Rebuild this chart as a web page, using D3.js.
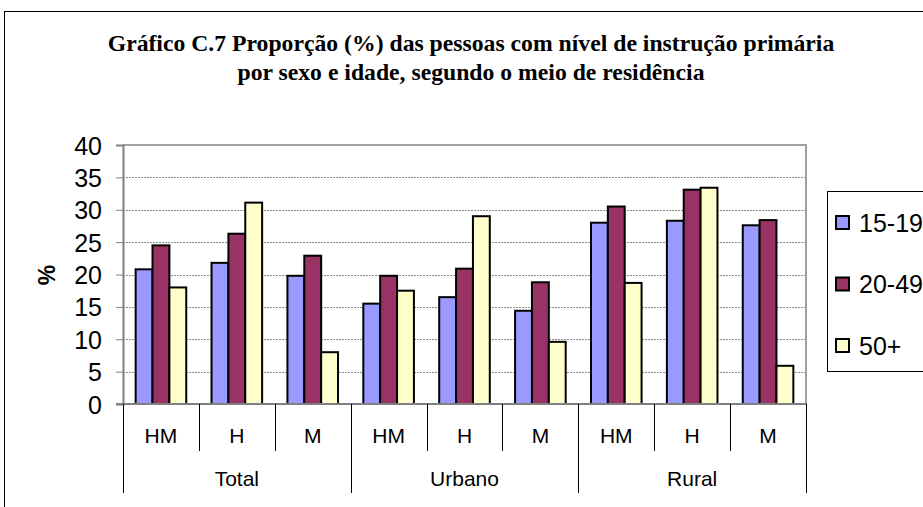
<!DOCTYPE html>
<html>
<head>
<meta charset="utf-8">
<script src="https://cdn.jsdelivr.net/npm/d3@7"></script>
<style>
  body { margin: 0; background: #fff; }
  svg { display: block; }
</style>
</head>
<body>
<svg width="923" height="507"></svg>
<script>
// data
var groups = ["Total", "Urbano", "Rural"];
var sexes = ["HM", "H", "M"];
var series = ["15-19", "20-49", "50+"];
var v1519 = [20.8, 21.8, 19.8, 15.5, 16.5, 14.4, 28.0, 28.3, 27.6];
var v2049 = [24.5, 26.3, 22.9, 19.8, 20.9, 18.8, 30.5, 33.1, 28.4];
var v50 = [18.0, 31.1, 8.0, 17.5, 29.0, 9.6, 18.7, 33.4, 5.9];
var yTicks = [0, 5, 10, 15, 20, 25, 30, 35, 40];
var colors = ["#9999ff", "#993366", "#ffffcc"];

var svg = d3.select("svg");
var sans = "'Liberation Sans', Arial, sans-serif";

var cats = [];
groups.forEach(function(g) {
  sexes.forEach(function(s) { cats.push(g + "|" + s); });
});
var values = [v1519, v2049, v50];

var pLeft = 123, pRight = 806, pTop = 145, pBottom = 404;

var x0 = d3.scaleBand().domain(cats).range([pLeft, pRight]);
var bw = x0.bandwidth();
var x1 = d3.scaleBand().domain(series).range([bw / 6, bw * 5 / 6]);
var xg = d3.scaleBand().domain(groups).range([pLeft, pRight]);
var y = d3.scaleLinear().domain([0, 40]).range([pBottom, pTop]);

// outer chart border
svg.append("rect")
  .attr("x", 4.5).attr("y", 11.5)
  .attr("width", 960).attr("height", 520)
  .attr("fill", "none").attr("stroke", "#000").attr("stroke-width", 1);

// title
var title = svg.append("text")
  .attr("x", 471).attr("y", 51)
  .attr("text-anchor", "middle")
  .style("font-family", "'Liberation Serif', 'Times New Roman', serif")
  .style("font-weight", "bold")
  .style("font-size", "23.7px");
title.append("tspan").attr("x", 471).text("Gráfico C.7 Proporção (%) das pessoas com nível de instrução primária");
title.append("tspan").attr("x", 471).attr("dy", 29).text("por sexo e idade, segundo o meio de residência");

// gridlines
svg.append("g").selectAll("line")
  .data(yTicks.filter(function(d) { return d > 0 && d < 40; }))
  .enter().append("line")
  .attr("x1", pLeft).attr("x2", pRight)
  .attr("y1", function(d) { return Math.round(y(d)) + 0.5; })
  .attr("y2", function(d) { return Math.round(y(d)) + 0.5; })
  .attr("stroke", "#8c8c8c").attr("stroke-width", 1)
  .attr("stroke-dasharray", "2,1");

// plot border (top / right)
svg.append("path")
  .attr("d", "M" + pLeft + "," + pTop + "H" + pRight + "V" + pBottom)
  .attr("fill", "none").attr("stroke", "#a0a0a0").attr("stroke-width", 2);

// bars
var bars = svg.append("g");
series.forEach(function(s, si) {
  bars.selectAll(".b" + si)
    .data(values[si])
    .enter().append("rect")
    .attr("class", "b" + si)
    .attr("x", function(d, i) { return x0(cats[i]) + x1(s); })
    .attr("y", function(d) { return y(d); })
    .attr("width", x1.bandwidth())
    .attr("height", function(d) { return y(0) - y(d); })
    .attr("fill", colors[si])
    .attr("stroke", "#000").attr("stroke-width", 2);
});

// y axis
var yAxis = svg.append("g")
  .attr("transform", "translate(" + pLeft + ",0)")
  .call(d3.axisLeft(y).tickValues(yTicks).tickSize(7).tickPadding(14));
yAxis.select(".domain").attr("stroke", "#808080").attr("stroke-width", 2);
yAxis.selectAll(".tick line").attr("stroke", "#808080");
yAxis.selectAll("text")
  .attr("dy", "0.36em")
  .style("font-family", sans)
  .style("font-size", "25px").attr("fill", "#000");

svg.append("text")
  .attr("transform", "translate(55,275) rotate(-90)")
  .attr("text-anchor", "middle")
  .style("font-family", sans)
  .style("font-weight", "bold").style("font-size", "23px")
  .text("%");

// x axis base line
svg.append("line")
  .attr("x1", pLeft - 7).attr("x2", pRight + 1)
  .attr("y1", pBottom).attr("y2", pBottom)
  .attr("stroke", "#808080").attr("stroke-width", 2);

// category separators
var xa = svg.append("g");
cats.concat(["end"]).forEach(function(c, i) {
  var xx = i < cats.length ? x0(c) : pRight;
  var long = i % 3 === 0;
  xa.append("line")
    .attr("x1", Math.round(xx) + 0.5).attr("x2", Math.round(xx) + 0.5)
    .attr("y1", pBottom).attr("y2", long ? 493 : 451)
    .attr("stroke", "#000").attr("stroke-width", 1);
});
xa.selectAll(".sub")
  .data(cats)
  .enter().append("text")
  .attr("x", function(d) { return x0(d) + bw / 2; })
  .attr("y", 443)
  .attr("text-anchor", "middle")
  .style("font-family", sans)
  .style("font-size", "21px")
  .text(function(d) { return d.split("|")[1]; });
xa.selectAll(".grp")
  .data(groups)
  .enter().append("text")
  .attr("x", function(d) { return xg(d) + xg.bandwidth() / 2; })
  .attr("y", 486)
  .attr("text-anchor", "middle")
  .style("font-family", sans)
  .style("font-size", "21px")
  .text(function(d) { return d; });

// legend
var lg = svg.append("g");
lg.append("rect")
  .attr("x", 827.5).attr("y", 191.5)
  .attr("width", 150).attr("height", 180)
  .attr("fill", "#fff").attr("stroke", "#000").attr("stroke-width", 1);
series.forEach(function(s, i) {
  var cy = 222.5 + i * 61.5;
  lg.append("rect")
    .attr("x", 836).attr("y", cy - 6.5)
    .attr("width", 13).attr("height", 13)
    .attr("fill", colors[i]).attr("stroke", "#000").attr("stroke-width", 2);
  lg.append("text")
    .attr("x", 859).attr("y", cy + 9)
    .style("font-family", sans)
    .style("font-size", "25px")
    .text(s);
});
</script>
</body>
</html>
